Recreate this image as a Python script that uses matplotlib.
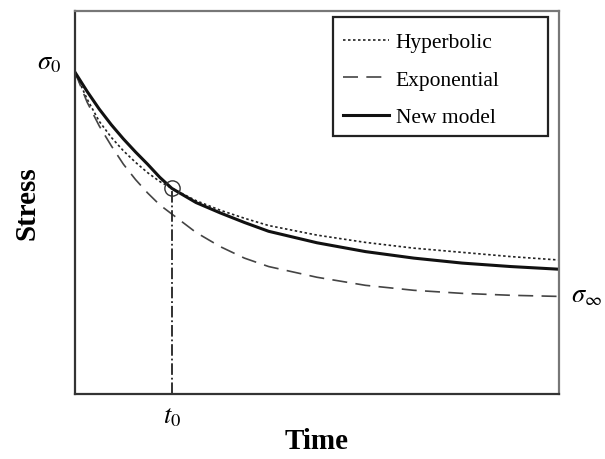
import matplotlib
matplotlib.use("Agg")
import matplotlib.pyplot as plt
from matplotlib.patches import Rectangle

# Data (arbitrary units)
time = [0, 0.25, 0.5, 0.75, 1, 1.25, 1.5, 1.75, 2, 2.5, 3, 3.5, 4, 5, 6, 7, 8, 9, 10]
hyperbolic = [0.84, 0.77, 0.712, 0.67, 0.635, 0.605, 0.578, 0.555, 0.537, 0.505, 0.48, 0.459,
              0.44, 0.415, 0.396, 0.381, 0.37, 0.359, 0.35]
exponential = [0.84, 0.762, 0.70, 0.648, 0.60, 0.56, 0.525, 0.494, 0.47, 0.422, 0.385, 0.355,
               0.333, 0.305, 0.284, 0.271, 0.263, 0.258, 0.255]
new_model = [0.84, 0.79, 0.744, 0.703, 0.666, 0.632, 0.6, 0.566, 0.537, 0.50, 0.473, 0.448,
             0.425, 0.395, 0.372, 0.355, 0.342, 0.333, 0.326]
t0 = 2
sigma_t0 = 0.537
sigma_0 = 0.84
sigma_inf = 0.255

plt.rcParams['font.family'] = ['Liberation Serif', 'DejaVu Serif']
plt.rcParams['mathtext.fontset'] = 'stix'

fig = plt.figure(figsize=(6.05, 4.6), dpi=100)
ax = fig.add_axes([0.124, 0.141, 0.8, 0.833])

ax.plot(time, hyperbolic, linestyle=(0, (1.5, 1.5)), color='#222222', lw=1.2, label='Hyperbolic')
ax.plot(time, exponential, linestyle=(0, (9, 5)), color='#444444', lw=1.2, label='Exponential')
ax.plot(time, new_model, linestyle='-', color='#111111', lw=2.2, label='New model')

ax.plot([t0, t0], [0, sigma_t0], linestyle='-.', color='#222222', lw=1.3)
ax.plot([t0], [sigma_t0], marker='o', markersize=11, markerfacecolor='none',
        markeredgecolor='#333333', markeredgewidth=1.0)

ax.set_xlim(0, 10)
ax.set_ylim(0, 1)
ax.set_xticks([])
ax.set_yticks([])
for s in ['left', 'bottom']:
    ax.spines[s].set_color('#333333')
    ax.spines[s].set_linewidth(1.6)
for s in ['top', 'right']:
    ax.spines[s].set_color('#777777')
    ax.spines[s].set_linewidth(1.6)

ax.set_xlabel('Time', fontsize=21, fontweight='bold', labelpad=24)
ax.set_ylabel('Stress', fontsize=21, fontweight='bold', labelpad=25)

ax.text(-0.28, sigma_0 + 0.025, r'$\sigma_0$', fontsize=19, ha='right', va='center')
ax.text(10.25, sigma_inf + 0.0, r'$\sigma_\infty$', fontsize=19, ha='left', va='center')
ax.text(t0, -0.03, r'$t_0$', fontsize=19, ha='center', va='top')

# legend box (drawn wider than the entries, as in the reference)
ax.add_patch(Rectangle((0.533, 0.674), 0.444, 0.31, transform=ax.transAxes,
                       facecolor='white', edgecolor='#222222', lw=1.6, zorder=4))
leg = ax.legend(loc='upper left', bbox_to_anchor=(0.54, 0.962), fontsize=15.5,
                frameon=False, handlelength=2.15, handletextpad=0.3,
                borderpad=0.3, labelspacing=0.82, borderaxespad=0)
leg.set_zorder(5)

fig.savefig('out.png', dpi=100)
